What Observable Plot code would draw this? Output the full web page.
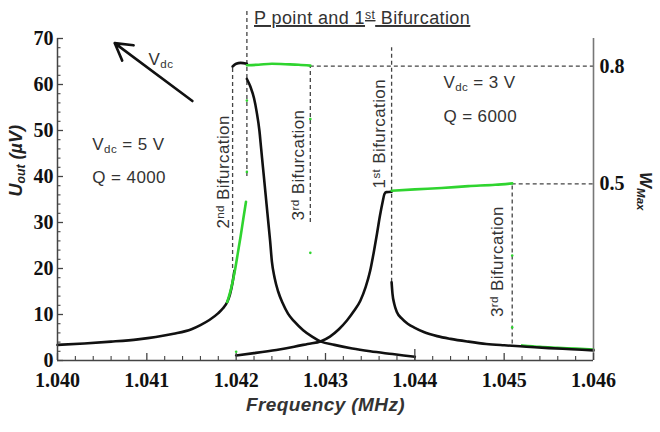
<!DOCTYPE html>
<html>
<head>
<meta charset="utf-8">
<script src="https://cdn.jsdelivr.net/npm/d3@7"></script>
<script src="https://cdn.jsdelivr.net/npm/@observablehq/plot@0.6"></script>
<style>
  html, body { margin: 0; padding: 0; background: #fff; }
  #chart svg { display: block; }
</style>
</head>
<body>
<div id="chart"></div>
<script>
// ---- axes ----
const xDomain = [1.040, 1.046];          // MHz
const yDomain = [0, 70];                 // µV
const xMajor = [1.040, 1.041, 1.042, 1.043, 1.044, 1.045, 1.046];
const yMajor = [0, 10, 20, 30, 40, 50, 60, 70];
const wMaxTicks = [0.8, 0.5];            // right-hand W_Max scale
const wMaxAnchorU = [64, 38.4];          // U_out levels where W_Max = 0.8 and 0.5

// ---- Vdc = 5 V, Q = 4000 ----
const up5Freq = [1.0400, 1.0403, 1.0406, 1.0409, 1.0411, 1.0413, 1.0415, 1.0416, 1.0417, 1.0418, 1.04185, 1.0419, 1.04193, 1.04196, 1.04198];
const up5U    = [3.4, 3.7, 4.1, 4.6, 5.1, 5.8, 6.8, 7.7, 8.8, 10.3, 11.3, 12.7, 14.3, 17.0, 19.5];
const up5GreenFreq = [1.0419, 1.04195, 1.04199, 1.04202, 1.04205, 1.04208, 1.04211];
const up5GreenU    = [12.7, 16.2, 20.0, 23.5, 27.0, 30.8, 34.5];
const top5Freq = [1.04196, 1.04200, 1.04205, 1.04212];
const top5U    = [63.9, 64.5, 64.7, 64.5];
const top5GreenFreq = [1.04212, 1.04225, 1.04240, 1.04255, 1.04270, 1.04283];
const top5GreenU    = [64.2, 64.3, 64.5, 64.4, 64.3, 64.1];
const down5Freq = [1.04212, 1.04216, 1.04220, 1.04223, 1.04226, 1.04228, 1.04230, 1.04232, 1.04234, 1.04236, 1.04238, 1.04240, 1.04243, 1.04247, 1.04252, 1.04258, 1.04265, 1.04275, 1.04285, 1.04295, 1.04310, 1.04330, 1.04350, 1.04375, 1.04400];
const down5U    = [61.2, 59.5, 57.0, 54.0, 50.0, 46.0, 42.0, 38.0, 34.0, 30.0, 26.0, 21.5, 18.0, 15.0, 12.5, 10.2, 8.5, 6.6, 5.2, 4.1, 3.4, 2.6, 2.0, 1.4, 0.8];

// ---- Vdc = 3 V, Q = 6000 ----
const up3Freq = [1.04200, 1.04220, 1.04245, 1.04265, 1.04280, 1.04295, 1.04305, 1.04315, 1.04324, 1.04332, 1.04339, 1.04345, 1.04350, 1.04354, 1.04358, 1.04361, 1.04364, 1.04366, 1.04368, 1.04374];
const up3U    = [1.1, 1.6, 2.3, 3.0, 3.6, 4.2, 5.2, 6.8, 8.7, 10.8, 13.0, 16.0, 19.5, 23.5, 28.0, 31.5, 34.5, 36.2, 36.6, 36.7];
const top3GreenFreq = [1.04374, 1.04400, 1.04430, 1.04460, 1.04490, 1.04509];
const top3GreenU    = [36.9, 37.2, 37.5, 37.9, 38.2, 38.5];
const down3Freq = [1.04374, 1.04375, 1.04377, 1.04380, 1.04385, 1.04392, 1.04400, 1.04410, 1.04425, 1.04440, 1.04460, 1.04480, 1.04500, 1.04525, 1.04550, 1.04575, 1.04600];
const down3U    = [17.0, 14.5, 12.3, 10.5, 9.2, 8.0, 7.1, 6.2, 5.3, 4.7, 4.1, 3.6, 3.3, 3.0, 2.7, 2.45, 2.2];
const tail3GreenFreq = [1.04520, 1.04540, 1.04560, 1.04580, 1.04600];
const tail3GreenU    = [3.3, 3.0, 2.8, 2.6, 2.4];

// isolated green samples near the jumps
const strayFreq = [1.04212, 1.04212, 1.04283, 1.04283, 1.04200, 1.04509, 1.04509];
const strayU    = [56.5, 41.0, 23.4, 52.5, 1.9, 22.8, 7.2];

// ---- bifurcation guides ----
const guideFreq = [1.04196, 1.04212, 1.04283, 1.04374, 1.04509, 1.04400];
const guideLow  = [20, 40, 30, 17, 3.6, 0];
const guideHigh = [64, 76, 64, 68, 38.4, 2.5];
const levelU    = [64, 38.4];
const levelFrom = [1.04283, 1.04509];

// ---- annotations ----
const noteText = ["V_{dc} = 5 V", "Q = 4000", "V_{dc} = 3 V", "Q = 6000", "V_{dc}"];
const noteFreq = [1.04039, 1.04039, 1.04432, 1.04432, 1.04102];
const noteU    = [47.0, 39.7, 60.4, 53.0, 65.4];
const sideText = ["2^{nd} Bifurcation", "3^{rd} Bifurcation", "1^{st} Bifurcation", "3^{rd} Bifurcation"];
const sideFreq = [1.04186, 1.04270, 1.04361, 1.04493];
const sideU    = [41.0, 42.5, 49.3, 21.5];
const titleText = "P point and 1^{st} Bifurcation";
const titleFreq = 1.04341, titleU = 74.4;
const arrowFrom = [1.04151, 56.4];
const arrowTo   = [1.04064, 69.0];

// ---- helpers ----
const zip = (seg, fs, us) => fs.map((f, i) => ({seg, f, u: us[i]}));
const blackData = [
  ...zip("up5", up5Freq, up5U),
  ...zip("top5", top5Freq, top5U),
  ...zip("down5", down5Freq, down5U),
  ...zip("up3", up3Freq, up3U),
  ...zip("down3", down3Freq, down3U)
];
const greenUnder = zip("tail3g", tail3GreenFreq, tail3GreenU);
const greenOver = [
  ...zip("up5g", up5GreenFreq, up5GreenU),
  ...zip("top5g", top5GreenFreq, top5GreenU),
  ...zip("top3g", top3GreenFreq, top3GreenU)
];
const strays = zip("stray", strayFreq, strayU);
const guides = guideFreq.map((f, i) => ({f, lo: guideLow[i], hi: guideHigh[i]}));
const levels = levelU.map((u, i) => ({u, f1: levelFrom[i], f2: xDomain[1]}));
const notes = noteText.map((t, i) => ({t, f: noteFreq[i], u: noteU[i]}));
const sides = sideText.map((t, i) => ({t, f: sideFreq[i], u: sideU[i]}));

const wPerU = (wMaxTicks[0] - wMaxTicks[1]) / (wMaxAnchorU[0] - wMaxAnchorU[1]);
const wOfU = u => wMaxTicks[1] + (u - wMaxAnchorU[1]) * wPerU;

const xMinor = d3.range(0, 31).map(i => xDomain[0] + i * 0.0002).filter((v, i) => i % 5 !== 0);
const yMinor = d3.range(0, 71, 2).filter(v => v % 10 !== 0);

const green = "#2fd42f";
const ink = "#111";
const sans = "Liberation Sans, Arial, sans-serif";
const guideStyle = {stroke: "#444", strokeWidth: 1.3, strokeDasharray: "4,3"};
const noteFont = {fontFamily: sans, fontSize: 17, fill: "#333"};
const tickFont = {fontFamily: "Liberation Serif, Times New Roman, serif", fontSize: 20, fontWeight: "bold"};

const frameH = 432 - 38 - 72, frameW = 660 - 57 - 67;

const chart = Plot.plot({
  width: 660,
  height: 432,
  marginLeft: 57,
  marginRight: 67,
  marginTop: 38,
  marginBottom: 72,
  x: {domain: xDomain},
  y: {domain: yDomain},
  style: {background: "#fff", overflow: "visible"},
  marks: [
    // dashed bifurcation guides and plateau levels
    Plot.ruleX(guides, {x: "f", y1: "lo", y2: "hi", ...guideStyle}),
    Plot.ruleY(levels, {y: "u", x1: "f1", x2: "f2", ...guideStyle}),
    // response curves
    Plot.line(greenUnder, {x: "f", y: "u", z: "seg", stroke: green, strokeWidth: 2.4, curve: "monotone-x"}),
    Plot.line(blackData, {x: "f", y: "u", z: "seg", stroke: ink, strokeWidth: 2.6, curve: "monotone-x"}),
    Plot.line(greenOver, {x: "f", y: "u", z: "seg", stroke: green, strokeWidth: 2.6, curve: "monotone-x"}),
    Plot.dot(strays, {x: "f", y: "u", r: 1.3, fill: green}),
    // frame
    Plot.ruleX([xDomain[0]], {stroke: "#444", strokeWidth: 1.5}),
    Plot.ruleX([xDomain[1]], {stroke: "#777", strokeWidth: 1.6}),
    Plot.ruleY([yDomain[0]], {stroke: "#444", strokeWidth: 1.5}),
    // inward tick marks
    Plot.tickX(xMajor, {x: d => d, insetTop: frameH - 7, stroke: "#444", strokeWidth: 1.3}),
    Plot.tickX(xMinor, {x: d => d, insetTop: frameH - 4, stroke: "#444", strokeWidth: 1.1}),
    Plot.tickY(yMajor, {y: d => d, insetRight: frameW - 6, stroke: "#444", strokeWidth: 1.3}),
    Plot.tickY(yMinor, {y: d => d, insetRight: frameW - 3.5, stroke: "#444", strokeWidth: 1.1}),
    // tick labels
    Plot.axisX({ticks: xMajor, tickFormat: d3.format(".3f"), tickSize: 0, tickPadding: 12, label: null, fill: ink, ...tickFont}),
    Plot.axisY({ticks: yMajor, tickSize: 0, tickPadding: 4, label: null, fill: ink, ...tickFont}),
    Plot.axisY({ticks: wMaxAnchorU, anchor: "right", tickFormat: u => d3.format(".1f")(wOfU(u)), tickSize: 0, tickPadding: 6, label: null, fill: ink, ...tickFont}),
    // axis titles
    Plot.text(["Frequency (MHz)"], {frameAnchor: "bottom", dy: 50, fontFamily: sans, fontSize: 19, fontWeight: "bold", fontStyle: "italic", fill: "#333"}),
    Plot.text(["U_{out} (µV)"], {frameAnchor: "left", dx: -41, dy: -3, rotate: -90, fontFamily: sans, fontSize: 18, fontWeight: "bold", fontStyle: "italic", fill: "#222"}),
    Plot.text(["W_{Max}"], {frameAnchor: "right", dx: 52, dy: 11, rotate: 90, fontFamily: sans, fontSize: 17, fontWeight: "bold", fontStyle: "italic", fill: "#222"}),
    // annotations
    Plot.text(notes, {x: "f", y: "u", text: "t", textAnchor: "start", ...noteFont}),
    Plot.text(sides, {x: "f", y: "u", text: "t", rotate: -90, ...noteFont}),
    Plot.text([titleText], {x: () => titleFreq, y: () => titleU, ...noteFont, fontSize: 18}),
    Plot.arrow([{from: arrowFrom, to: arrowTo}], {
      x1: d => d.from[0], y1: d => d.from[1], x2: d => d.to[0], y2: d => d.to[1],
      stroke: ink, strokeWidth: 2.6, headLength: 11
    })
  ]
});

// turn _{..} and ^{..} into sub/superscript spans; loosen the annotation lettering
const SVGNS = "http://www.w3.org/2000/svg";
const spaced = new Set([...noteText, ...sideText, titleText, "Frequency (MHz)"]);
chart.querySelectorAll("text").forEach(t => {
  const s = t.textContent;
  if (spaced.has(s)) t.style.letterSpacing = "0.4px";
  if (s === titleText) t.style.textDecoration = "underline";
  if (!/[_^]\{/.test(s)) return;
  while (t.firstChild) t.removeChild(t.firstChild);
  const re = /([_^])\{([^}]*)\}|([^_^]+)/g;
  let m;
  while ((m = re.exec(s))) {
    const span = document.createElementNS(SVGNS, "tspan");
    if (m[1]) {
      span.textContent = m[2];
      span.setAttribute("font-size", "68%");
      span.setAttribute("baseline-shift", m[1] === "_" ? "-28%" : "45%");
    } else {
      span.textContent = m[3];
    }
    if (s === titleText) span.style.textDecoration = "underline";
    t.appendChild(span);
  }
});

document.getElementById("chart").appendChild(chart);
</script>
</body>
</html>
